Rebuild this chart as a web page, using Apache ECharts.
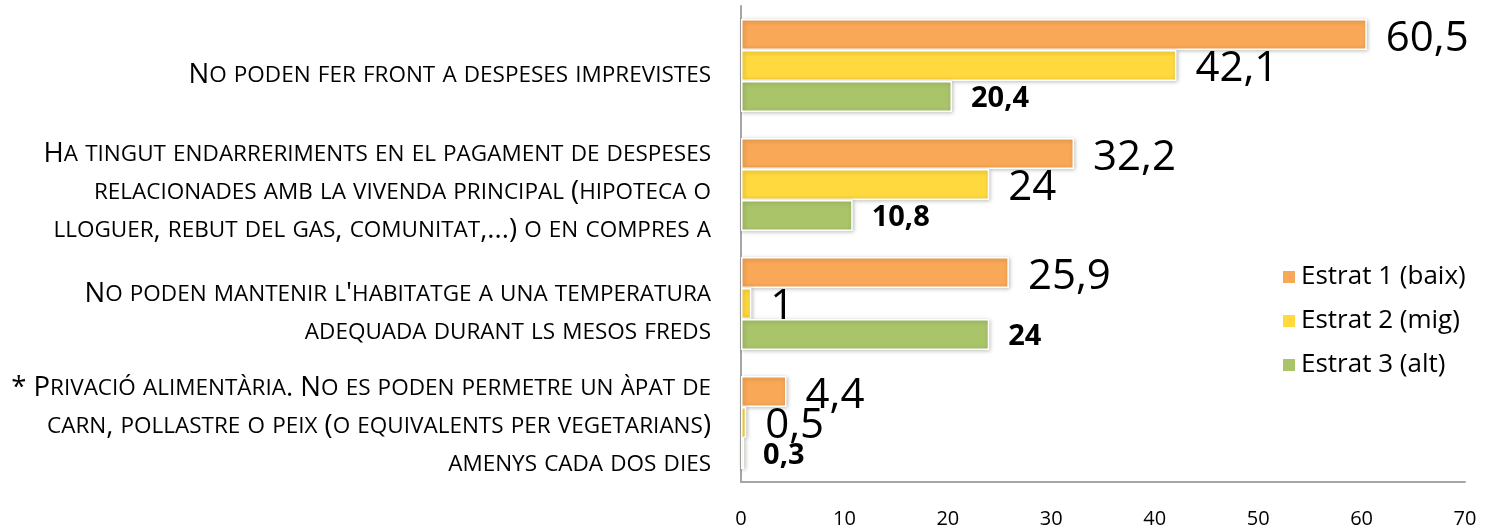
<!DOCTYPE html>
<html>
<head>
<meta charset="utf-8">
<script src="https://cdn.jsdelivr.net/npm/echarts@6/dist/echarts.min.js"></script>
<style>
  html, body { margin: 0; padding: 0; background: #fff; }
  #chart { width: 1489px; height: 529px; }
</style>
</head>
<body>
<div id="chart"></div>
<script>
var categories = [
  'No poden fer front a despeses imprevistes',
  'Ha tingut endarreriments en el pagament de despeses\nrelacionades amb la vivenda principal (hipoteca o\nlloguer, rebut del gas, comunitat,...) o en compres a',
  "No poden mantenir l'habitatge a una temperatura\nadequada durant ls mesos freds",
  '* Privació alimentària. No es poden permetre un àpat de\ncarn, pollastre o peix (o equivalents per vegetarians)\namenys cada dos dies'
];
var seriesNames = ['Estrat 1 (baix)', 'Estrat 2 (mig)', 'Estrat 3 (alt)'];
var estrat1 = [60.5, 32.2, 25.9, 4.4];
var estrat2 = [42.1, 24, 1, 0.5];
var estrat3 = [20.4, 10.8, 24, 0.3];
var xTicks = [0, 10, 20, 30, 40, 50, 60, 70];

var colors = ['#F9A857', '#FFD93E', '#AAC46A'];
var font = '"Open Sans", sans-serif';
// small vertical nudge of each category label (px of top padding)
var labelShift = [20, 16, 20, 8];

function fmt(p) { return String(p.value).replace('.', ','); }

// fake small caps: lowercase letters -> uppercase in a smaller size
function smallCaps(text) {
  return text.split('\n').map(function (line) {
    var out = '', cur = null, buf = '';
    for (var i = 0; i < line.length; i++) {
      var ch = line[i];
      var low = ch !== ch.toUpperCase();
      var st = low ? 'b' : 'a';
      if (st !== cur && buf) { out += '{' + cur + '|' + buf + '}'; buf = ''; }
      cur = st;
      buf += low ? ch.toUpperCase() : ch;
    }
    if (buf) out += '{' + cur + '|' + buf + '}';
    return out;
  }).join('\n');
}

function makeSeries(name, data, idx) {
  var bold = idx === 2;
  return {
    name: name,
    type: 'bar',
    data: data,
    barGap: '0%',
    barCategoryGap: '22%',
    itemStyle: {
      color: colors[idx],
      borderColor: '#fff',
      borderWidth: 1.5,
      shadowColor: 'rgba(0,0,0,0.25)',
      shadowBlur: 4,
      shadowOffsetX: 1,
      shadowOffsetY: 1
    },
    label: {
      show: true,
      position: 'right',
      distance: 19,
      offset: [0, bold ? 2 : 4],
      formatter: fmt,
      color: '#000',
      fontFamily: font,
      fontSize: bold ? 29 : 42,
      fontWeight: bold ? 'bold' : 'normal'
    }
  };
}

var yData = categories.map(function (c, i) {
  return { value: c, textStyle: { padding: [labelShift[i], 0, 0, 0] } };
});

var chart = echarts.init(document.getElementById('chart'), null, { renderer: 'canvas' });
chart.setOption({
  animation: false,
  color: colors,
  grid: { left: 741, right: 24, top: 6, bottom: 47, containLabel: false },
  legend: {
    orient: 'vertical',
    left: 1276,
    top: 259,
    itemWidth: 14,
    itemHeight: 14,
    itemGap: 18,
    icon: 'rect',
    textStyle: { fontFamily: font, fontSize: 26, color: '#000' },
    data: seriesNames
  },
  xAxis: {
    type: 'value',
    min: 0,
    max: 70,
    interval: 10,
    axisLine: { show: true, lineStyle: { color: '#A6A6A6', width: 2 } },
    axisTick: { show: false },
    splitLine: { show: false },
    axisLabel: {
      margin: 27,
      fontFamily: font,
      fontSize: 20,
      color: '#000',
      customValues: xTicks
    }
  },
  yAxis: {
    type: 'category',
    inverse: true,
    data: yData,
    axisLine: { show: true, lineStyle: { color: '#A6A6A6', width: 2 } },
    axisTick: { show: false },
    axisLabel: {
      margin: 30,
      align: 'right',
      color: '#000',
      formatter: smallCaps,
      rich: {
        a: { fontFamily: font, fontSize: 27.5, lineHeight: 38, color: '#000' },
        b: { fontFamily: font, fontSize: 22.5, lineHeight: 38, color: '#000' }
      }
    }
  },
  series: [
    makeSeries(seriesNames[0], estrat1, 0),
    makeSeries(seriesNames[1], estrat2, 1),
    makeSeries(seriesNames[2], estrat3, 2)
  ]
});
</script>
</body>
</html>
